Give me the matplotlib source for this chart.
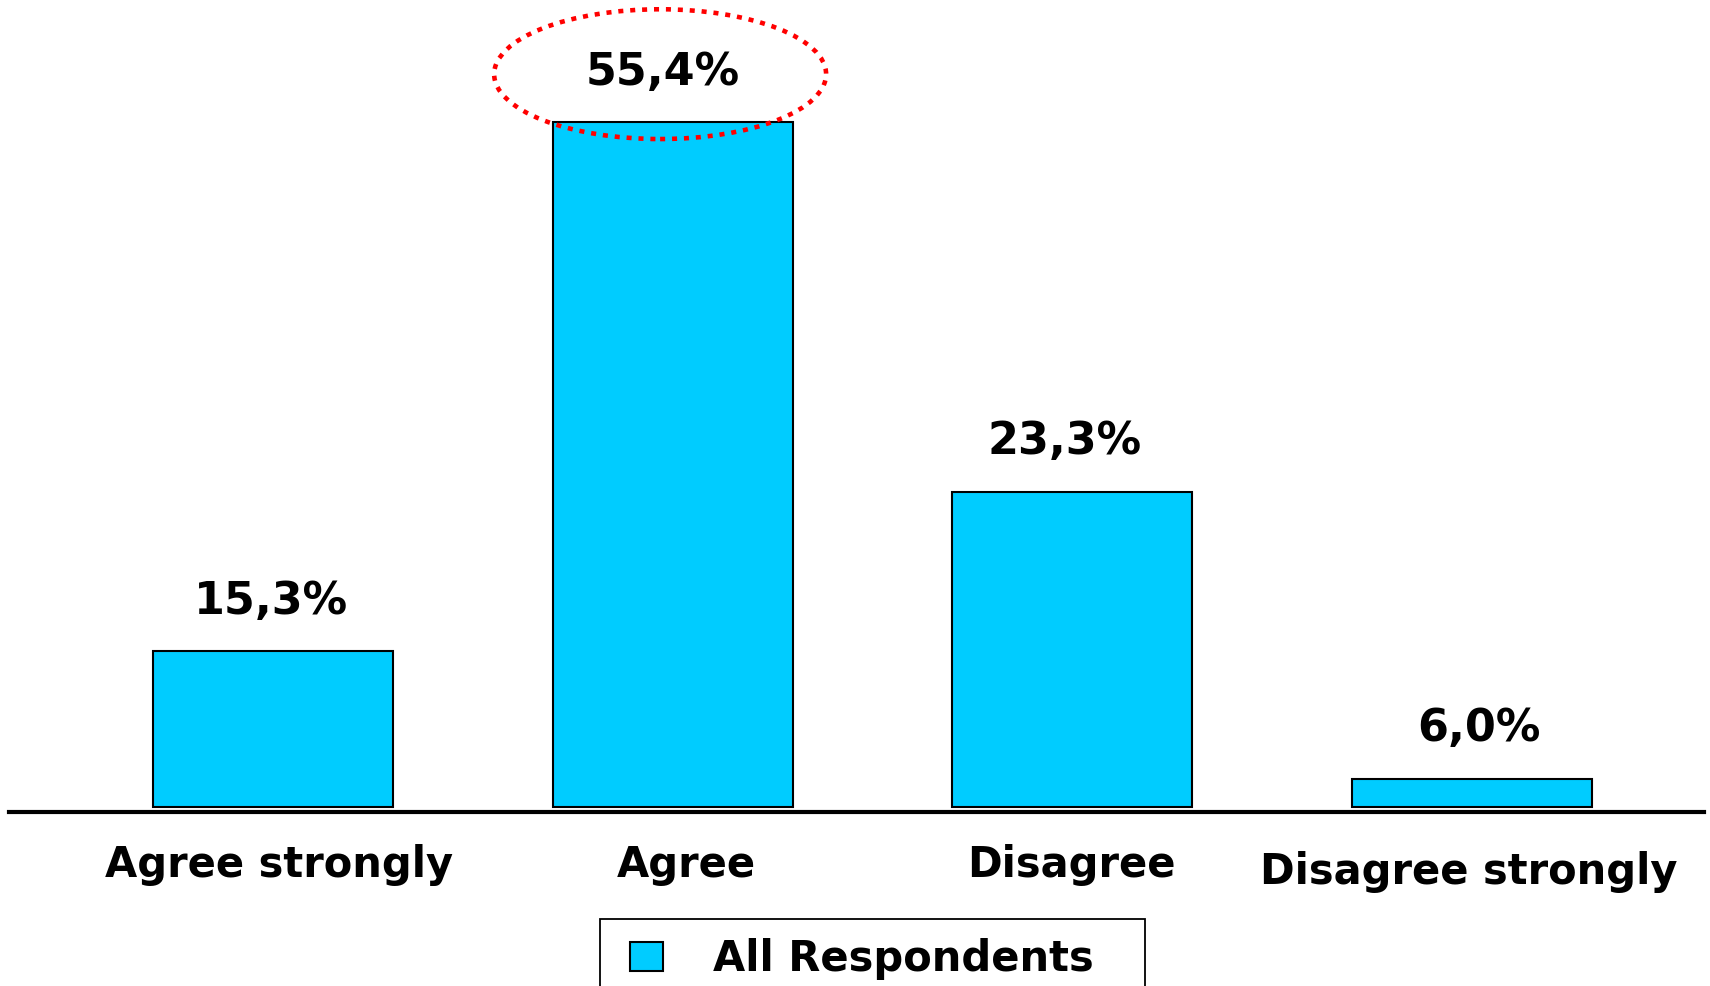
import matplotlib.pyplot as plt
from matplotlib.patches import Ellipse, Rectangle

categories = ["Agree strongly", "Agree", "Disagree", "Disagree strongly"]
# bar heights as drawn in the picture (%), and the printed labels
heights = [12.6, 55.4, 25.5, 2.3]
value_labels = ["15,3%", "55,4%", "23,3%", "6,0%"]
series_name = "All Respondents"

bar_color = "#00CCFF"
W, H = 1710, 986

fig = plt.figure(figsize=(W / 100, H / 100), dpi=100)
ax = fig.add_axes([9 / W, (H - 812) / H, (1704 - 9) / W, 812 / H])

x = list(range(len(categories)))
ax.bar(x, heights, width=0.6, color=bar_color, edgecolor="black",
       linewidth=1.5, label=series_name)

ax.set_xlim(-0.659, 3.579)
ax.set_ylim(-0.4, 65.3)

for s in ["top", "left", "right"]:
    ax.spines[s].set_visible(False)
ax.spines["bottom"].set_linewidth(3)
ax.set_xticks([])
ax.set_yticks([])

# value labels above bars
lab_dx = [-1, -7, -6, 5]
for xi, h, lab, ox in zip(x, heights, value_labels, lab_dx):
    ax.annotate(lab, xy=(xi, h), xytext=(ox, 36), textcoords="offset points",
                ha="center", va="center", fontsize=32, fontweight="bold")

# category labels under the axis
dx = [5, 10, -1, -3]
dy = [-47, -47, -47, -52]
for xi, cat, ox, oy in zip(x, categories, dx, dy):
    ax.annotate(cat, xy=(xi, 0), xycoords=("data", "axes fraction"),
                xytext=(ox, oy), textcoords="offset points",
                ha="center", va="baseline", fontsize=30, fontweight="bold",
                annotation_clip=False)

# dotted ellipse round the largest value
imax = heights.index(max(heights))
ell = Ellipse((imax - 0.031, heights[imax] + 3.9), width=0.83, height=10.5,
              fill=False, edgecolor="red", linewidth=3.3,
              linestyle=(0, (1.1, 1.5)), clip_on=False)
ax.add_patch(ell)

# legend (frame drawn separately, it runs off the bottom edge)
leg = fig.legend(loc="center left", bbox_to_anchor=(630 / W, 1 - 959 / H),
                 borderaxespad=0, borderpad=0, prop={"weight": "bold", "size": 30},
                 handlelength=0.8, handleheight=0.7, handletextpad=1.2,
                 frameon=False)
box = Rectangle((600 / W, 1 - 1000 / H), 545 / W, 81 / H, transform=fig.transFigure,
                fill=False, edgecolor="black", linewidth=1.3, clip_on=False)
fig.add_artist(box)

plt.savefig("out.png", dpi=100)
